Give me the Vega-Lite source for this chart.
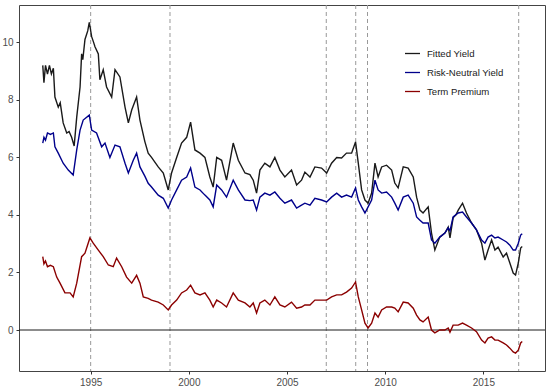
{
 "$schema": "https://vega.github.io/schema/vega-lite/v6.json",
 "width": 526,
 "height": 366,
 "autosize": {"type": "none"},
 "padding": {"left": 19, "top": 5, "right": 6, "bottom": 19},
 "background": "white",
 "config": {
  "view": {"stroke": "#444444", "strokeWidth": 1},
  "axis": {"domain": false, "grid": false, "ticks": true, "tickColor": "#333333", "tickSize": 3, "labelColor": "#4d4d4d", "labelFont": "Liberation Sans", "labelFontSize": 10, "labelPadding": 3, "title": null},
  "legend": {"orient": "none", "legendX": 385, "legendY": 40, "title": null, "symbolType": "stroke", "symbolSize": 225, "symbolStrokeWidth": 1.3, "labelFontSize": 9.6, "labelFont": "Liberation Sans", "labelColor": "#1a1a1a", "rowPadding": 5, "labelOffset": 6, "padding": 0}
 },
 "datasets": {
  "vlines": [{"x": 1995.0}, {"x": 1999.04}, {"x": 2007.0}, {"x": 2008.5}, {"x": 2009.1}, {"x": 2016.8}],
  "zero": [{"y": 0}],
  "series": [
   {"d":1992.56,"s":"Fitted Yield","v":9.2},{"d":1992.62,"s":"Fitted Yield","v":8.6},{"d":1992.7,"s":"Fitted Yield","v":9.2},{"d":1992.8,"s":"Fitted Yield","v":8.9},{"d":1992.9,"s":"Fitted Yield","v":9.2},{"d":1993.0,"s":"Fitted Yield","v":8.9},{"d":1993.1,"s":"Fitted Yield","v":9.1},{"d":1993.18,"s":"Fitted Yield","v":8.1},{"d":1993.35,"s":"Fitted Yield","v":7.75},{"d":1993.45,"s":"Fitted Yield","v":7.9},{"d":1993.6,"s":"Fitted Yield","v":7.2},{"d":1993.78,"s":"Fitted Yield","v":6.85},{"d":1993.9,"s":"Fitted Yield","v":6.9},{"d":1994.03,"s":"Fitted Yield","v":6.7},{"d":1994.16,"s":"Fitted Yield","v":6.4},{"d":1994.29,"s":"Fitted Yield","v":7.4},{"d":1994.46,"s":"Fitted Yield","v":8.45},{"d":1994.54,"s":"Fitted Yield","v":9.6},{"d":1994.6,"s":"Fitted Yield","v":9.4},{"d":1994.71,"s":"Fitted Yield","v":10.1},{"d":1994.85,"s":"Fitted Yield","v":10.4},{"d":1994.93,"s":"Fitted Yield","v":10.7},{"d":1995.05,"s":"Fitted Yield","v":10.2},{"d":1995.15,"s":"Fitted Yield","v":10.0},{"d":1995.22,"s":"Fitted Yield","v":9.85},{"d":1995.39,"s":"Fitted Yield","v":9.6},{"d":1995.47,"s":"Fitted Yield","v":8.7},{"d":1995.64,"s":"Fitted Yield","v":9.05},{"d":1995.81,"s":"Fitted Yield","v":8.45},{"d":1996.07,"s":"Fitted Yield","v":8.1},{"d":1996.24,"s":"Fitted Yield","v":9.05},{"d":1996.49,"s":"Fitted Yield","v":8.8},{"d":1996.75,"s":"Fitted Yield","v":7.75},{"d":1996.92,"s":"Fitted Yield","v":7.2},{"d":1997.09,"s":"Fitted Yield","v":7.65},{"d":1997.34,"s":"Fitted Yield","v":8.1},{"d":1997.51,"s":"Fitted Yield","v":7.3},{"d":1997.76,"s":"Fitted Yield","v":6.55},{"d":1997.93,"s":"Fitted Yield","v":6.15},{"d":1998.1,"s":"Fitted Yield","v":6.0},{"d":1998.44,"s":"Fitted Yield","v":5.67},{"d":1998.7,"s":"Fitted Yield","v":5.46},{"d":1998.95,"s":"Fitted Yield","v":4.87},{"d":1999.12,"s":"Fitted Yield","v":5.46},{"d":1999.38,"s":"Fitted Yield","v":6.0},{"d":1999.63,"s":"Fitted Yield","v":6.5},{"d":1999.89,"s":"Fitted Yield","v":6.7},{"d":2000.09,"s":"Fitted Yield","v":7.23},{"d":2000.31,"s":"Fitted Yield","v":6.26},{"d":2000.57,"s":"Fitted Yield","v":6.15},{"d":2000.82,"s":"Fitted Yield","v":6.0},{"d":2001.07,"s":"Fitted Yield","v":5.32},{"d":2001.24,"s":"Fitted Yield","v":4.97},{"d":2001.42,"s":"Fitted Yield","v":6.0},{"d":2001.67,"s":"Fitted Yield","v":5.9},{"d":2001.92,"s":"Fitted Yield","v":5.21},{"d":2002.26,"s":"Fitted Yield","v":6.5},{"d":2002.52,"s":"Fitted Yield","v":5.9},{"d":2002.86,"s":"Fitted Yield","v":5.46},{"d":2003.11,"s":"Fitted Yield","v":5.4},{"d":2003.28,"s":"Fitted Yield","v":5.21},{"d":2003.45,"s":"Fitted Yield","v":4.76},{"d":2003.62,"s":"Fitted Yield","v":5.56},{"d":2003.87,"s":"Fitted Yield","v":5.8},{"d":2004.13,"s":"Fitted Yield","v":5.67},{"d":2004.38,"s":"Fitted Yield","v":6.0},{"d":2004.64,"s":"Fitted Yield","v":5.56},{"d":2004.89,"s":"Fitted Yield","v":5.32},{"d":2005.23,"s":"Fitted Yield","v":5.56},{"d":2005.49,"s":"Fitted Yield","v":5.04},{"d":2005.74,"s":"Fitted Yield","v":5.21},{"d":2005.91,"s":"Fitted Yield","v":5.49},{"d":2006.17,"s":"Fitted Yield","v":5.32},{"d":2006.42,"s":"Fitted Yield","v":5.67},{"d":2006.76,"s":"Fitted Yield","v":5.63},{"d":2007.02,"s":"Fitted Yield","v":5.46},{"d":2007.27,"s":"Fitted Yield","v":5.8},{"d":2007.53,"s":"Fitted Yield","v":6.0},{"d":2007.78,"s":"Fitted Yield","v":5.98},{"d":2008.03,"s":"Fitted Yield","v":6.15},{"d":2008.29,"s":"Fitted Yield","v":6.15},{"d":2008.49,"s":"Fitted Yield","v":6.54},{"d":2008.63,"s":"Fitted Yield","v":5.8},{"d":2008.8,"s":"Fitted Yield","v":4.87},{"d":2008.97,"s":"Fitted Yield","v":4.52},{"d":2009.13,"s":"Fitted Yield","v":4.41},{"d":2009.31,"s":"Fitted Yield","v":4.76},{"d":2009.48,"s":"Fitted Yield","v":5.8},{"d":2009.64,"s":"Fitted Yield","v":5.32},{"d":2009.82,"s":"Fitted Yield","v":5.67},{"d":2010.07,"s":"Fitted Yield","v":5.73},{"d":2010.33,"s":"Fitted Yield","v":5.56},{"d":2010.49,"s":"Fitted Yield","v":5.11},{"d":2010.66,"s":"Fitted Yield","v":4.94},{"d":2010.92,"s":"Fitted Yield","v":5.67},{"d":2011.17,"s":"Fitted Yield","v":5.63},{"d":2011.43,"s":"Fitted Yield","v":5.32},{"d":2011.6,"s":"Fitted Yield","v":4.62},{"d":2011.77,"s":"Fitted Yield","v":4.17},{"d":2011.93,"s":"Fitted Yield","v":4.07},{"d":2012.19,"s":"Fitted Yield","v":4.28},{"d":2012.36,"s":"Fitted Yield","v":3.37},{"d":2012.53,"s":"Fitted Yield","v":2.78},{"d":2012.78,"s":"Fitted Yield","v":3.23},{"d":2013.04,"s":"Fitted Yield","v":3.37},{"d":2013.21,"s":"Fitted Yield","v":3.58},{"d":2013.3,"s":"Fitted Yield","v":3.2},{"d":2013.46,"s":"Fitted Yield","v":3.9},{"d":2013.6,"s":"Fitted Yield","v":4.0},{"d":2013.72,"s":"Fitted Yield","v":4.17},{"d":2013.94,"s":"Fitted Yield","v":4.41},{"d":2014.14,"s":"Fitted Yield","v":4.07},{"d":2014.4,"s":"Fitted Yield","v":3.72},{"d":2014.65,"s":"Fitted Yield","v":3.48},{"d":2014.91,"s":"Fitted Yield","v":3.02},{"d":2015.08,"s":"Fitted Yield","v":2.43},{"d":2015.24,"s":"Fitted Yield","v":2.78},{"d":2015.42,"s":"Fitted Yield","v":3.13},{"d":2015.59,"s":"Fitted Yield","v":2.78},{"d":2015.75,"s":"Fitted Yield","v":2.88},{"d":2016.01,"s":"Fitted Yield","v":2.54},{"d":2016.18,"s":"Fitted Yield","v":2.67},{"d":2016.35,"s":"Fitted Yield","v":2.33},{"d":2016.52,"s":"Fitted Yield","v":1.98},{"d":2016.64,"s":"Fitted Yield","v":1.91},{"d":2016.78,"s":"Fitted Yield","v":2.33},{"d":2016.9,"s":"Fitted Yield","v":2.85},{"d":2016.98,"s":"Fitted Yield","v":2.9},
   {"d":1992.56,"s":"Risk-Neutral Yield","v":6.5},{"d":1992.62,"s":"Risk-Neutral Yield","v":6.7},{"d":1992.7,"s":"Risk-Neutral Yield","v":6.6},{"d":1992.8,"s":"Risk-Neutral Yield","v":6.85},{"d":1992.95,"s":"Risk-Neutral Yield","v":6.8},{"d":1993.1,"s":"Risk-Neutral Yield","v":6.85},{"d":1993.18,"s":"Risk-Neutral Yield","v":6.37},{"d":1993.35,"s":"Risk-Neutral Yield","v":6.15},{"d":1993.6,"s":"Risk-Neutral Yield","v":5.8},{"d":1993.86,"s":"Risk-Neutral Yield","v":5.56},{"d":1994.11,"s":"Risk-Neutral Yield","v":5.39},{"d":1994.29,"s":"Risk-Neutral Yield","v":6.26},{"d":1994.46,"s":"Risk-Neutral Yield","v":6.95},{"d":1994.62,"s":"Risk-Neutral Yield","v":7.3},{"d":1994.93,"s":"Risk-Neutral Yield","v":7.47},{"d":1995.05,"s":"Risk-Neutral Yield","v":6.95},{"d":1995.3,"s":"Risk-Neutral Yield","v":6.85},{"d":1995.56,"s":"Risk-Neutral Yield","v":6.37},{"d":1995.73,"s":"Risk-Neutral Yield","v":6.5},{"d":1995.98,"s":"Risk-Neutral Yield","v":6.0},{"d":1996.24,"s":"Risk-Neutral Yield","v":6.43},{"d":1996.49,"s":"Risk-Neutral Yield","v":6.37},{"d":1996.75,"s":"Risk-Neutral Yield","v":5.8},{"d":1996.92,"s":"Risk-Neutral Yield","v":5.46},{"d":1997.17,"s":"Risk-Neutral Yield","v":5.9},{"d":1997.34,"s":"Risk-Neutral Yield","v":6.15},{"d":1997.51,"s":"Risk-Neutral Yield","v":5.67},{"d":1997.76,"s":"Risk-Neutral Yield","v":5.35},{"d":1997.93,"s":"Risk-Neutral Yield","v":5.1},{"d":1998.1,"s":"Risk-Neutral Yield","v":4.97},{"d":1998.44,"s":"Risk-Neutral Yield","v":4.69},{"d":1998.7,"s":"Risk-Neutral Yield","v":4.58},{"d":1998.95,"s":"Risk-Neutral Yield","v":4.24},{"d":1999.12,"s":"Risk-Neutral Yield","v":4.52},{"d":1999.38,"s":"Risk-Neutral Yield","v":4.87},{"d":1999.63,"s":"Risk-Neutral Yield","v":5.21},{"d":1999.89,"s":"Risk-Neutral Yield","v":5.32},{"d":2000.09,"s":"Risk-Neutral Yield","v":5.63},{"d":2000.31,"s":"Risk-Neutral Yield","v":4.97},{"d":2000.57,"s":"Risk-Neutral Yield","v":4.87},{"d":2000.82,"s":"Risk-Neutral Yield","v":4.69},{"d":2001.07,"s":"Risk-Neutral Yield","v":4.52},{"d":2001.24,"s":"Risk-Neutral Yield","v":4.28},{"d":2001.42,"s":"Risk-Neutral Yield","v":5.04},{"d":2001.67,"s":"Risk-Neutral Yield","v":4.87},{"d":2001.92,"s":"Risk-Neutral Yield","v":4.62},{"d":2002.26,"s":"Risk-Neutral Yield","v":5.21},{"d":2002.52,"s":"Risk-Neutral Yield","v":4.87},{"d":2002.86,"s":"Risk-Neutral Yield","v":4.52},{"d":2003.11,"s":"Risk-Neutral Yield","v":4.5},{"d":2003.28,"s":"Risk-Neutral Yield","v":4.52},{"d":2003.45,"s":"Risk-Neutral Yield","v":4.17},{"d":2003.62,"s":"Risk-Neutral Yield","v":4.62},{"d":2003.87,"s":"Risk-Neutral Yield","v":4.76},{"d":2004.13,"s":"Risk-Neutral Yield","v":4.69},{"d":2004.38,"s":"Risk-Neutral Yield","v":4.8},{"d":2004.64,"s":"Risk-Neutral Yield","v":4.58},{"d":2004.89,"s":"Risk-Neutral Yield","v":4.41},{"d":2005.23,"s":"Risk-Neutral Yield","v":4.52},{"d":2005.49,"s":"Risk-Neutral Yield","v":4.24},{"d":2005.74,"s":"Risk-Neutral Yield","v":4.34},{"d":2005.91,"s":"Risk-Neutral Yield","v":4.41},{"d":2006.17,"s":"Risk-Neutral Yield","v":4.34},{"d":2006.42,"s":"Risk-Neutral Yield","v":4.58},{"d":2006.76,"s":"Risk-Neutral Yield","v":4.52},{"d":2007.02,"s":"Risk-Neutral Yield","v":4.45},{"d":2007.27,"s":"Risk-Neutral Yield","v":4.62},{"d":2007.53,"s":"Risk-Neutral Yield","v":4.76},{"d":2007.78,"s":"Risk-Neutral Yield","v":4.62},{"d":2008.03,"s":"Risk-Neutral Yield","v":4.69},{"d":2008.29,"s":"Risk-Neutral Yield","v":4.62},{"d":2008.49,"s":"Risk-Neutral Yield","v":4.94},{"d":2008.63,"s":"Risk-Neutral Yield","v":4.52},{"d":2008.8,"s":"Risk-Neutral Yield","v":4.28},{"d":2008.97,"s":"Risk-Neutral Yield","v":4.07},{"d":2009.13,"s":"Risk-Neutral Yield","v":4.28},{"d":2009.31,"s":"Risk-Neutral Yield","v":4.52},{"d":2009.48,"s":"Risk-Neutral Yield","v":5.21},{"d":2009.64,"s":"Risk-Neutral Yield","v":4.87},{"d":2009.82,"s":"Risk-Neutral Yield","v":4.76},{"d":2010.07,"s":"Risk-Neutral Yield","v":4.8},{"d":2010.33,"s":"Risk-Neutral Yield","v":4.62},{"d":2010.49,"s":"Risk-Neutral Yield","v":4.41},{"d":2010.66,"s":"Risk-Neutral Yield","v":4.17},{"d":2010.92,"s":"Risk-Neutral Yield","v":4.62},{"d":2011.17,"s":"Risk-Neutral Yield","v":4.69},{"d":2011.43,"s":"Risk-Neutral Yield","v":4.41},{"d":2011.6,"s":"Risk-Neutral Yield","v":3.93},{"d":2011.77,"s":"Risk-Neutral Yield","v":3.82},{"d":2011.93,"s":"Risk-Neutral Yield","v":3.72},{"d":2012.19,"s":"Risk-Neutral Yield","v":3.72},{"d":2012.36,"s":"Risk-Neutral Yield","v":3.13},{"d":2012.53,"s":"Risk-Neutral Yield","v":3.02},{"d":2012.78,"s":"Risk-Neutral Yield","v":3.23},{"d":2013.04,"s":"Risk-Neutral Yield","v":3.37},{"d":2013.21,"s":"Risk-Neutral Yield","v":3.55},{"d":2013.3,"s":"Risk-Neutral Yield","v":3.45},{"d":2013.46,"s":"Risk-Neutral Yield","v":3.93},{"d":2013.72,"s":"Risk-Neutral Yield","v":4.07},{"d":2013.94,"s":"Risk-Neutral Yield","v":4.1},{"d":2014.14,"s":"Risk-Neutral Yield","v":3.93},{"d":2014.4,"s":"Risk-Neutral Yield","v":3.72},{"d":2014.65,"s":"Risk-Neutral Yield","v":3.48},{"d":2014.91,"s":"Risk-Neutral Yield","v":3.13},{"d":2015.08,"s":"Risk-Neutral Yield","v":3.02},{"d":2015.24,"s":"Risk-Neutral Yield","v":3.23},{"d":2015.42,"s":"Risk-Neutral Yield","v":3.3},{"d":2015.59,"s":"Risk-Neutral Yield","v":3.2},{"d":2015.75,"s":"Risk-Neutral Yield","v":3.23},{"d":2016.01,"s":"Risk-Neutral Yield","v":3.13},{"d":2016.18,"s":"Risk-Neutral Yield","v":3.06},{"d":2016.35,"s":"Risk-Neutral Yield","v":2.95},{"d":2016.52,"s":"Risk-Neutral Yield","v":2.78},{"d":2016.64,"s":"Risk-Neutral Yield","v":2.78},{"d":2016.78,"s":"Risk-Neutral Yield","v":3.02},{"d":2016.9,"s":"Risk-Neutral Yield","v":3.3},{"d":2016.98,"s":"Risk-Neutral Yield","v":3.35},
   {"d":1992.56,"s":"Term Premium","v":2.55},{"d":1992.62,"s":"Term Premium","v":2.3},{"d":1992.7,"s":"Term Premium","v":2.4},{"d":1992.8,"s":"Term Premium","v":2.2},{"d":1992.95,"s":"Term Premium","v":2.25},{"d":1993.1,"s":"Term Premium","v":2.2},{"d":1993.27,"s":"Term Premium","v":1.84},{"d":1993.44,"s":"Term Premium","v":1.63},{"d":1993.69,"s":"Term Premium","v":1.29},{"d":1993.95,"s":"Term Premium","v":1.29},{"d":1994.11,"s":"Term Premium","v":1.15},{"d":1994.29,"s":"Term Premium","v":1.63},{"d":1994.54,"s":"Term Premium","v":2.55},{"d":1994.71,"s":"Term Premium","v":2.67},{"d":1994.96,"s":"Term Premium","v":3.2},{"d":1995.13,"s":"Term Premium","v":3.02},{"d":1995.39,"s":"Term Premium","v":2.78},{"d":1995.64,"s":"Term Premium","v":2.55},{"d":1995.9,"s":"Term Premium","v":2.26},{"d":1996.15,"s":"Term Premium","v":2.2},{"d":1996.32,"s":"Term Premium","v":2.5},{"d":1996.58,"s":"Term Premium","v":2.2},{"d":1996.83,"s":"Term Premium","v":1.84},{"d":1997.09,"s":"Term Premium","v":1.63},{"d":1997.34,"s":"Term Premium","v":1.9},{"d":1997.51,"s":"Term Premium","v":1.63},{"d":1997.68,"s":"Term Premium","v":1.15},{"d":1997.93,"s":"Term Premium","v":1.1},{"d":1998.1,"s":"Term Premium","v":1.04},{"d":1998.44,"s":"Term Premium","v":0.97},{"d":1998.7,"s":"Term Premium","v":0.87},{"d":1998.95,"s":"Term Premium","v":0.7},{"d":1999.12,"s":"Term Premium","v":0.87},{"d":1999.38,"s":"Term Premium","v":1.04},{"d":1999.63,"s":"Term Premium","v":1.29},{"d":1999.89,"s":"Term Premium","v":1.39},{"d":2000.09,"s":"Term Premium","v":1.56},{"d":2000.31,"s":"Term Premium","v":1.29},{"d":2000.57,"s":"Term Premium","v":1.22},{"d":2000.82,"s":"Term Premium","v":1.29},{"d":2001.07,"s":"Term Premium","v":1.04},{"d":2001.24,"s":"Term Premium","v":0.8},{"d":2001.42,"s":"Term Premium","v":1.04},{"d":2001.67,"s":"Term Premium","v":0.94},{"d":2001.92,"s":"Term Premium","v":0.8},{"d":2002.26,"s":"Term Premium","v":1.29},{"d":2002.52,"s":"Term Premium","v":1.04},{"d":2002.86,"s":"Term Premium","v":0.94},{"d":2003.11,"s":"Term Premium","v":0.8},{"d":2003.28,"s":"Term Premium","v":0.94},{"d":2003.45,"s":"Term Premium","v":0.59},{"d":2003.62,"s":"Term Premium","v":0.94},{"d":2003.87,"s":"Term Premium","v":1.04},{"d":2004.13,"s":"Term Premium","v":0.87},{"d":2004.38,"s":"Term Premium","v":1.15},{"d":2004.64,"s":"Term Premium","v":0.87},{"d":2004.89,"s":"Term Premium","v":0.8},{"d":2005.23,"s":"Term Premium","v":0.97},{"d":2005.49,"s":"Term Premium","v":0.76},{"d":2005.74,"s":"Term Premium","v":0.8},{"d":2005.91,"s":"Term Premium","v":0.87},{"d":2006.17,"s":"Term Premium","v":0.87},{"d":2006.42,"s":"Term Premium","v":1.04},{"d":2006.76,"s":"Term Premium","v":1.04},{"d":2007.02,"s":"Term Premium","v":1.04},{"d":2007.27,"s":"Term Premium","v":1.15},{"d":2007.53,"s":"Term Premium","v":1.22},{"d":2007.78,"s":"Term Premium","v":1.22},{"d":2008.03,"s":"Term Premium","v":1.32},{"d":2008.29,"s":"Term Premium","v":1.46},{"d":2008.49,"s":"Term Premium","v":1.67},{"d":2008.63,"s":"Term Premium","v":1.15},{"d":2008.8,"s":"Term Premium","v":0.7},{"d":2008.97,"s":"Term Premium","v":0.24},{"d":2009.13,"s":"Term Premium","v":0.07},{"d":2009.31,"s":"Term Premium","v":0.24},{"d":2009.48,"s":"Term Premium","v":0.59},{"d":2009.64,"s":"Term Premium","v":0.45},{"d":2009.82,"s":"Term Premium","v":0.7},{"d":2010.07,"s":"Term Premium","v":0.8},{"d":2010.33,"s":"Term Premium","v":0.8},{"d":2010.49,"s":"Term Premium","v":0.76},{"d":2010.66,"s":"Term Premium","v":0.63},{"d":2010.92,"s":"Term Premium","v":0.97},{"d":2011.17,"s":"Term Premium","v":0.94},{"d":2011.43,"s":"Term Premium","v":0.76},{"d":2011.6,"s":"Term Premium","v":0.52},{"d":2011.77,"s":"Term Premium","v":0.35},{"d":2011.93,"s":"Term Premium","v":0.28},{"d":2012.19,"s":"Term Premium","v":0.45},{"d":2012.36,"s":"Term Premium","v":0.0},{"d":2012.53,"s":"Term Premium","v":-0.1},{"d":2012.78,"s":"Term Premium","v":0.0},{"d":2013.04,"s":"Term Premium","v":0.0},{"d":2013.21,"s":"Term Premium","v":0.07},{"d":2013.3,"s":"Term Premium","v":-0.08},{"d":2013.46,"s":"Term Premium","v":0.17},{"d":2013.72,"s":"Term Premium","v":0.17},{"d":2013.94,"s":"Term Premium","v":0.24},{"d":2014.14,"s":"Term Premium","v":0.17},{"d":2014.4,"s":"Term Premium","v":0.07},{"d":2014.65,"s":"Term Premium","v":-0.06},{"d":2014.91,"s":"Term Premium","v":-0.35},{"d":2015.08,"s":"Term Premium","v":-0.45},{"d":2015.24,"s":"Term Premium","v":-0.28},{"d":2015.42,"s":"Term Premium","v":-0.24},{"d":2015.59,"s":"Term Premium","v":-0.35},{"d":2015.75,"s":"Term Premium","v":-0.35},{"d":2016.01,"s":"Term Premium","v":-0.45},{"d":2016.18,"s":"Term Premium","v":-0.52},{"d":2016.35,"s":"Term Premium","v":-0.63},{"d":2016.52,"s":"Term Premium","v":-0.76},{"d":2016.64,"s":"Term Premium","v":-0.8},{"d":2016.78,"s":"Term Premium","v":-0.7},{"d":2016.9,"s":"Term Premium","v":-0.45},{"d":2016.98,"s":"Term Premium","v":-0.4}
  ]
 },
 "layer": [
  {
   "data": {"name": "vlines"},
   "mark": {"type": "rule", "color": "#999999", "strokeDash": [4, 3], "strokeWidth": 1},
   "encoding": {
    "x": {"field": "x", "type": "quantitative", "scale": {"domain": [1991.35, 2018.14], "nice": false, "zero": false}}
   }
  },
  {
   "data": {"name": "zero"},
   "mark": {"type": "rule", "color": "#1a1a1a", "strokeWidth": 1},
   "encoding": {
    "y": {"field": "y", "type": "quantitative", "scale": {"domain": [-1.425, 11.3], "nice": false, "zero": false}}
   }
  },
  {
   "data": {"name": "series"},
   "mark": {"type": "line", "strokeWidth": 1.4},
   "encoding": {
    "x": {"field": "d", "type": "quantitative", "scale": {"domain": [1991.35, 2018.14], "nice": false, "zero": false}, "axis": {"values": [1995, 2000, 2005, 2010, 2015], "format": "d"}},
    "y": {"field": "v", "type": "quantitative", "scale": {"domain": [-1.425, 11.3], "nice": false, "zero": false}, "axis": {"values": [0, 2, 4, 6, 8, 10], "format": "d"}},
    "color": {"field": "s", "type": "nominal", "scale": {"domain": ["Fitted Yield", "Risk-Neutral Yield", "Term Premium"], "range": ["#1a1a1a", "#00008b", "#8b0000"]}}
   }
  }
 ]
}
